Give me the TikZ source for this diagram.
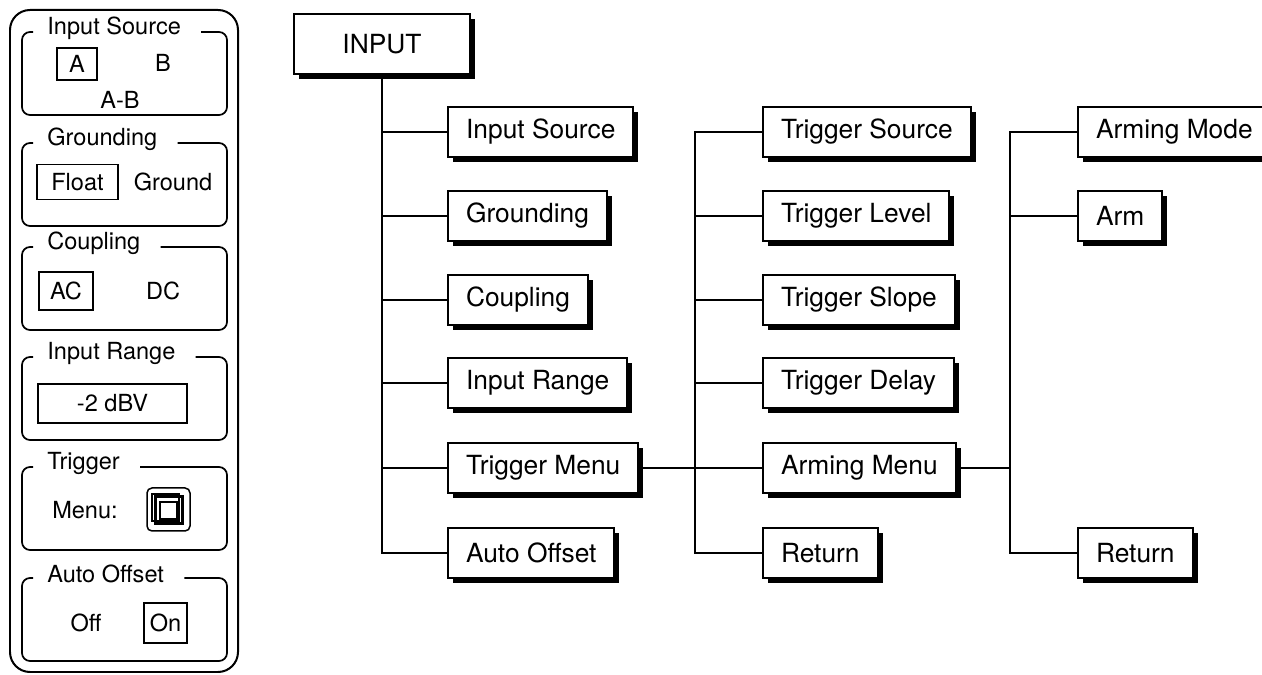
\documentclass[tikz,border=0pt]{standalone}
\usepackage{fontspec}
\setmainfont{TeX Gyre Heros}
\usetikzlibrary{positioning,shadows}

% one framed group of the front panel: name, top edge, title
\newcommand{\PanelGroup}[3]{%
  \node[grptitle] (#1) at (47,#2) {#3};
  \draw[grpline] ([xshift=0.4cm,yshift=-0.08cm]#1.east) -| (227,#2+83) -| (22,#2) -- (33,#2);
}

\begin{document}
\begin{tikzpicture}[x=0.02cm,y=-0.02cm,
  menubox/.style={draw,fill=white,line width=0.04cm,minimum height=1cm,inner xsep=0.36cm,anchor=west,
    font=\fontsize{15}{18}\selectfont,
    drop shadow={shadow xshift=0.1cm,shadow yshift=-0.1cm,fill=black,opacity=1}},
  link/.style={line width=0.04cm},
  grptitle/.style={inner sep=0,anchor=west,yshift=0.08cm,font=\fontsize{13.4}{16}\selectfont},
  grpline/.style={line width=0.035cm,rounded corners=0.16cm},
  paneltext/.style={inner sep=0,font=\fontsize{13.4}{16}\selectfont},
  selbox/.style={draw,line width=0.03cm,inner sep=0,font=\fontsize{13.4}{16}\selectfont}]
\useasboundingbox (0,0) rectangle (1262,675);

% front panel
\draw[line width=0.04cm,rounded corners=0.4cm] (10,10) rectangle (238,672);

\PanelGroup{gsrc}{32}{Input Source}
\node[selbox,minimum width=0.8cm,minimum height=0.64cm] (selA) at (77,64) {A};
\node[paneltext] (selB) at (163,63) {B};
\node[paneltext] (selAB) at (120,100) {A-B};

\PanelGroup{ggnd}{143}{Grounding}
\node[selbox,minimum width=1.62cm,minimum height=0.7cm] (selFloat) at (77.5,182) {Float};
\node[paneltext] (selGround) at (173,182) {Ground};

\PanelGroup{gcpl}{247}{Coupling}
\node[selbox,minimum width=1.08cm,minimum height=0.76cm] (selAC) at (66,291) {AC};
\node[paneltext] (selDC) at (163,291) {DC};

\PanelGroup{grng}{357}{Input Range}
\node[selbox,minimum width=2.98cm,minimum height=0.78cm] (selRange) at (112.5,403.5) {-2 dBV};

\PanelGroup{gtrg}{467}{Trigger}
\node[paneltext] (selMenu) at (85,510) {Menu:};
\draw[line width=0.03cm,rounded corners=0.1cm] (147,488) rectangle (190,531);
\draw[line width=0.03cm] (152,494) rectangle (179,521);
\draw[line width=0.06cm] (155,497) rectangle (182,524);
\draw[line width=0.04cm] (160,502) rectangle (177,519);

\PanelGroup{goff}{578}{Auto Offset}
\node[paneltext] (selOff) at (86,623) {Off};
\node[selbox,minimum width=0.86cm,minimum height=0.8cm] (selOn) at (165.5,623) {On};

% menu tree
\node[menubox,anchor=center,minimum width=3.52cm,minimum height=1.22cm] (input) at (382,44) {INPUT};

\node[menubox] (isrc) at (447,132) {Input Source};
\node[menubox] (grnd) at (447,216) {Grounding};
\node[menubox] (coup) at (447,300) {Coupling};
\node[menubox] (irng) at (447,383) {Input Range};
\node[menubox] (tmenu) at (447,468) {Trigger Menu};
\node[menubox] (aoff) at (447,553) {Auto Offset};

\node[menubox] (tsrc) at (762,132) {Trigger Source};
\node[menubox] (tlev) at (762,216) {Trigger Level};
\node[menubox] (tslp) at (762,300) {Trigger Slope};
\node[menubox] (tdly) at (762,383) {Trigger Delay};
\node[menubox] (amenu) at (762,468) {Arming Menu};
\node[menubox] (tret) at (762,553) {Return};

\node[menubox] (amode) at (1077,132) {Arming Mode};
\node[menubox] (arm) at (1077,216) {Arm};
\node[menubox] (aret) at (1077,553) {Return};

\coordinate (t2) at (695,0);
\coordinate (t3) at (1010,0);

\draw[link] (input.south) |- (aoff.west);
\foreach \n in {isrc,grnd,coup,irng,tmenu}
  \draw[link] (input.south |- \n.west) -- (\n.west);

\draw[link] (tsrc.west) -| (t2 |- tret.west) -- (tret.west);
\foreach \n in {tlev,tslp,tdly}
  \draw[link] (t2 |- \n.west) -- (\n.west);
\draw[link] (tmenu.east) -- (amenu.west);

\draw[link] (amode.west) -| (t3 |- aret.west) -- (aret.west);
\draw[link] (t3 |- arm.west) -- (arm.west);
\draw[link] (amenu.east) -- (t3 |- amenu.east);

\end{tikzpicture}
\end{document}
